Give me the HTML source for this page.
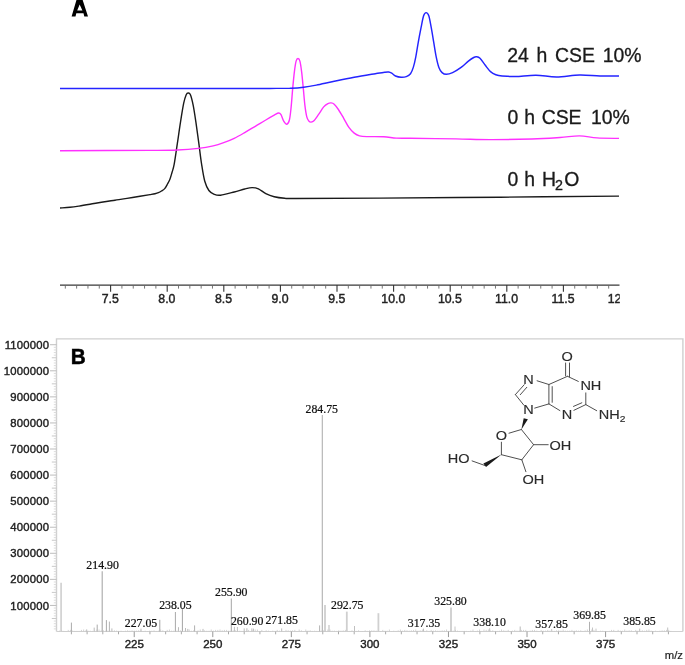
<!DOCTYPE html>
<html><head><meta charset="utf-8"><title>Figure</title>
<style>
html,body{margin:0;padding:0;background:#fff;}
body{width:685px;height:665px;overflow:hidden;font-family:"Liberation Sans",sans-serif;}
svg{display:block;filter:blur(0.42px);}
</style></head><body>
<svg width="685" height="665" viewBox="0 0 685 665">
<defs><clipPath id="clipA"><rect x="0" y="290" width="619.8" height="20"/></clipPath></defs>
<rect width="685" height="665" fill="#fff"/>
<path d="M60.00,208.00 C61.67,207.88 66.83,207.62 70.00,207.30 C73.17,206.98 75.67,206.60 79.00,206.10 C82.33,205.60 86.00,204.98 90.00,204.30 C94.00,203.62 98.83,202.68 103.00,202.00 C107.17,201.32 111.00,200.80 115.00,200.20 C119.00,199.60 122.83,199.07 127.00,198.40 C131.17,197.73 136.17,196.83 140.00,196.20 C143.83,195.57 147.50,195.02 150.00,194.60 C152.50,194.18 153.60,194.02 155.00,193.70 C156.40,193.38 157.32,193.15 158.40,192.70 C159.48,192.25 160.45,191.68 161.50,191.00 C162.55,190.32 163.70,189.77 164.70,188.60 C165.70,187.43 166.62,185.60 167.50,184.00 C168.38,182.40 169.25,180.92 170.00,179.00 C170.75,177.08 171.30,174.97 172.00,172.50 C172.70,170.03 173.30,169.08 174.20,164.20 C175.10,159.32 176.35,150.22 177.40,143.20 C178.45,136.18 179.45,128.77 180.50,122.10 C181.55,115.43 182.75,107.77 183.70,103.20 C184.65,98.63 185.47,96.40 186.20,94.70 C186.93,93.00 187.40,93.00 188.10,93.00 C188.80,93.00 189.55,92.65 190.40,94.70 C191.25,96.75 192.28,100.73 193.20,105.30 C194.12,109.87 194.97,115.78 195.90,122.10 C196.83,128.42 197.85,136.18 198.80,143.20 C199.75,150.22 200.62,157.90 201.60,164.20 C202.58,170.50 203.48,176.62 204.70,181.00 C205.92,185.38 207.32,188.28 208.90,190.50 C210.48,192.72 212.27,193.52 214.20,194.30 C216.13,195.08 217.17,195.58 220.50,195.20 C223.83,194.82 230.17,193.03 234.20,192.00 C238.23,190.97 241.72,189.73 244.70,189.00 C247.68,188.27 249.82,187.63 252.10,187.60 C254.38,187.57 256.12,187.78 258.40,188.80 C260.68,189.82 263.17,192.37 265.80,193.70 C268.43,195.03 271.05,196.03 274.20,196.80 C277.35,197.57 281.07,198.02 284.70,198.30 C288.33,198.58 280.12,198.53 296.00,198.50 C311.88,198.47 346.00,198.32 380.00,198.10 C414.00,197.88 460.17,197.53 500.00,197.20 C539.83,196.87 599.17,196.28 619.00,196.10" fill="none" stroke="#1a1a1a" stroke-width="1.4" stroke-linejoin="round"/>
<path d="M60.00,150.70 C75.00,150.65 130.43,150.52 150.00,150.40 C169.57,150.28 169.33,150.33 177.40,150.00 C185.47,149.67 192.43,149.08 198.40,148.40 C204.37,147.72 208.98,146.85 213.20,145.90 C217.42,144.95 220.20,143.97 223.70,142.70 C227.20,141.43 230.70,139.98 234.20,138.30 C237.70,136.62 241.18,134.60 244.70,132.60 C248.22,130.60 251.78,128.40 255.30,126.30 C258.82,124.20 262.65,121.85 265.80,120.00 C268.95,118.15 272.07,116.37 274.20,115.20 C276.33,114.03 277.47,113.08 278.60,113.00 C279.73,112.92 280.15,113.35 281.00,114.70 C281.85,116.05 282.73,119.52 283.70,121.10 C284.67,122.68 285.85,124.38 286.80,124.20 C287.75,124.02 288.68,122.80 289.40,120.00 C290.12,117.20 290.55,112.67 291.10,107.40 C291.65,102.13 292.15,94.37 292.70,88.40 C293.25,82.43 293.83,76.15 294.40,71.60 C294.97,67.05 295.50,63.28 296.10,61.10 C296.70,58.92 297.37,58.50 298.00,58.50 C298.63,58.50 299.30,58.92 299.90,61.10 C300.50,63.28 301.03,67.05 301.60,71.60 C302.17,76.15 302.75,82.78 303.30,88.40 C303.85,94.02 304.32,100.57 304.90,105.30 C305.48,110.03 306.13,114.17 306.80,116.80 C307.47,119.43 308.18,120.22 308.90,121.10 C309.62,121.98 310.22,122.22 311.10,122.10 C311.98,121.98 312.98,121.63 314.20,120.40 C315.42,119.17 316.82,116.95 318.40,114.70 C319.98,112.45 322.12,108.75 323.70,106.90 C325.28,105.05 326.67,104.27 327.90,103.60 C329.13,102.93 330.05,102.80 331.10,102.90 C332.15,103.00 332.98,103.10 334.20,104.20 C335.42,105.30 336.82,107.15 338.40,109.50 C339.98,111.85 341.95,115.32 343.70,118.30 C345.45,121.28 347.15,124.93 348.90,127.40 C350.65,129.87 352.43,131.70 354.20,133.10 C355.97,134.50 357.40,135.22 359.50,135.80 C361.60,136.38 362.77,136.43 366.80,136.60 C370.83,136.77 378.78,136.55 383.70,136.80 C388.62,137.05 391.92,137.85 396.30,138.10 C400.68,138.35 400.05,138.17 410.00,138.30 C419.95,138.43 442.67,138.68 456.00,138.90 C469.33,139.12 477.33,139.58 490.00,139.60 C502.67,139.62 520.33,139.35 532.00,139.00 C543.67,138.65 552.08,138.02 560.00,137.50 C567.92,136.98 573.33,135.83 579.50,135.90 C585.67,135.97 590.42,137.48 597.00,137.90 C603.58,138.32 615.33,138.32 619.00,138.40" fill="none" stroke="#ff30ff" stroke-width="1.4" stroke-linejoin="round"/>
<path d="M60.00,88.40 C95.00,88.40 231.50,88.43 270.00,88.40 C308.50,88.37 285.38,88.40 291.00,88.20 C296.62,88.00 299.48,87.72 303.70,87.20 C307.92,86.68 311.38,86.05 316.30,85.10 C321.22,84.15 326.88,82.80 333.20,81.50 C339.52,80.20 347.18,78.60 354.20,77.30 C361.22,76.00 370.22,74.55 375.30,73.70 C380.38,72.85 382.47,72.48 384.70,72.20 C386.93,71.92 387.53,71.83 388.70,72.00 C389.87,72.17 390.57,72.53 391.70,73.20 C392.83,73.87 393.93,75.32 395.50,76.00 C397.07,76.68 399.30,77.20 401.10,77.30 C402.90,77.40 404.73,77.20 406.30,76.60 C407.87,76.00 409.33,75.23 410.50,73.70 C411.67,72.17 412.42,70.22 413.30,67.40 C414.18,64.58 414.97,61.02 415.80,56.80 C416.63,52.58 417.42,47.00 418.30,42.10 C419.18,37.20 420.22,31.78 421.10,27.40 C421.98,23.02 422.77,18.27 423.60,15.80 C424.43,13.33 425.23,12.60 426.10,12.60 C426.97,12.60 427.95,13.33 428.80,15.80 C429.65,18.27 430.38,23.02 431.20,27.40 C432.02,31.78 432.87,37.20 433.70,42.10 C434.53,47.00 435.33,52.58 436.20,56.80 C437.07,61.02 437.92,64.77 438.90,67.40 C439.88,70.03 440.87,71.45 442.10,72.60 C443.33,73.75 444.55,74.30 446.30,74.30 C448.05,74.30 450.13,73.75 452.60,72.60 C455.07,71.45 458.47,69.32 461.10,67.40 C463.73,65.48 466.30,62.75 468.40,61.10 C470.50,59.45 472.37,58.22 473.70,57.50 C475.03,56.78 475.35,56.67 476.40,56.80 C477.45,56.93 478.52,56.88 480.00,58.30 C481.48,59.72 483.55,63.08 485.30,65.30 C487.05,67.52 488.75,70.03 490.50,71.60 C492.25,73.17 493.87,73.97 495.80,74.70 C497.73,75.43 498.80,75.70 502.10,76.00 C505.40,76.30 509.95,76.63 515.60,76.50 C521.25,76.37 529.18,75.12 536.00,75.20 C542.82,75.28 549.25,77.03 556.50,77.00 C563.75,76.97 572.25,75.17 579.50,75.00 C586.75,74.83 593.42,75.83 600.00,76.00 C606.58,76.17 615.83,76.00 619.00,76.00" fill="none" stroke="#2424ff" stroke-width="1.45" stroke-linejoin="round"/>
<line x1="60" y1="285.1" x2="619.5" y2="285.1" stroke="#383838" stroke-width="1.1"/>
<line x1="65.32" y1="285" x2="65.32" y2="288.6" stroke="#666" stroke-width="0.9"/>
<line x1="76.64" y1="285" x2="76.64" y2="288.6" stroke="#666" stroke-width="0.9"/>
<line x1="87.96" y1="285" x2="87.96" y2="288.6" stroke="#666" stroke-width="0.9"/>
<line x1="99.28" y1="285" x2="99.28" y2="288.6" stroke="#666" stroke-width="0.9"/>
<line x1="110.60" y1="285" x2="110.60" y2="291.7" stroke="#333" stroke-width="1.1"/>
<line x1="121.92" y1="285" x2="121.92" y2="288.6" stroke="#666" stroke-width="0.9"/>
<line x1="133.24" y1="285" x2="133.24" y2="288.6" stroke="#666" stroke-width="0.9"/>
<line x1="144.56" y1="285" x2="144.56" y2="288.6" stroke="#666" stroke-width="0.9"/>
<line x1="155.88" y1="285" x2="155.88" y2="288.6" stroke="#666" stroke-width="0.9"/>
<line x1="167.20" y1="285" x2="167.20" y2="291.7" stroke="#333" stroke-width="1.1"/>
<line x1="178.52" y1="285" x2="178.52" y2="288.6" stroke="#666" stroke-width="0.9"/>
<line x1="189.84" y1="285" x2="189.84" y2="288.6" stroke="#666" stroke-width="0.9"/>
<line x1="201.16" y1="285" x2="201.16" y2="288.6" stroke="#666" stroke-width="0.9"/>
<line x1="212.48" y1="285" x2="212.48" y2="288.6" stroke="#666" stroke-width="0.9"/>
<line x1="223.80" y1="285" x2="223.80" y2="291.7" stroke="#333" stroke-width="1.1"/>
<line x1="235.12" y1="285" x2="235.12" y2="288.6" stroke="#666" stroke-width="0.9"/>
<line x1="246.44" y1="285" x2="246.44" y2="288.6" stroke="#666" stroke-width="0.9"/>
<line x1="257.76" y1="285" x2="257.76" y2="288.6" stroke="#666" stroke-width="0.9"/>
<line x1="269.08" y1="285" x2="269.08" y2="288.6" stroke="#666" stroke-width="0.9"/>
<line x1="280.40" y1="285" x2="280.40" y2="291.7" stroke="#333" stroke-width="1.1"/>
<line x1="291.72" y1="285" x2="291.72" y2="288.6" stroke="#666" stroke-width="0.9"/>
<line x1="303.04" y1="285" x2="303.04" y2="288.6" stroke="#666" stroke-width="0.9"/>
<line x1="314.36" y1="285" x2="314.36" y2="288.6" stroke="#666" stroke-width="0.9"/>
<line x1="325.68" y1="285" x2="325.68" y2="288.6" stroke="#666" stroke-width="0.9"/>
<line x1="337.00" y1="285" x2="337.00" y2="291.7" stroke="#333" stroke-width="1.1"/>
<line x1="348.32" y1="285" x2="348.32" y2="288.6" stroke="#666" stroke-width="0.9"/>
<line x1="359.64" y1="285" x2="359.64" y2="288.6" stroke="#666" stroke-width="0.9"/>
<line x1="370.96" y1="285" x2="370.96" y2="288.6" stroke="#666" stroke-width="0.9"/>
<line x1="382.28" y1="285" x2="382.28" y2="288.6" stroke="#666" stroke-width="0.9"/>
<line x1="393.60" y1="285" x2="393.60" y2="291.7" stroke="#333" stroke-width="1.1"/>
<line x1="404.92" y1="285" x2="404.92" y2="288.6" stroke="#666" stroke-width="0.9"/>
<line x1="416.24" y1="285" x2="416.24" y2="288.6" stroke="#666" stroke-width="0.9"/>
<line x1="427.56" y1="285" x2="427.56" y2="288.6" stroke="#666" stroke-width="0.9"/>
<line x1="438.88" y1="285" x2="438.88" y2="288.6" stroke="#666" stroke-width="0.9"/>
<line x1="450.20" y1="285" x2="450.20" y2="291.7" stroke="#333" stroke-width="1.1"/>
<line x1="461.52" y1="285" x2="461.52" y2="288.6" stroke="#666" stroke-width="0.9"/>
<line x1="472.84" y1="285" x2="472.84" y2="288.6" stroke="#666" stroke-width="0.9"/>
<line x1="484.16" y1="285" x2="484.16" y2="288.6" stroke="#666" stroke-width="0.9"/>
<line x1="495.48" y1="285" x2="495.48" y2="288.6" stroke="#666" stroke-width="0.9"/>
<line x1="506.80" y1="285" x2="506.80" y2="291.7" stroke="#333" stroke-width="1.1"/>
<line x1="518.12" y1="285" x2="518.12" y2="288.6" stroke="#666" stroke-width="0.9"/>
<line x1="529.44" y1="285" x2="529.44" y2="288.6" stroke="#666" stroke-width="0.9"/>
<line x1="540.76" y1="285" x2="540.76" y2="288.6" stroke="#666" stroke-width="0.9"/>
<line x1="552.08" y1="285" x2="552.08" y2="288.6" stroke="#666" stroke-width="0.9"/>
<line x1="563.40" y1="285" x2="563.40" y2="291.7" stroke="#333" stroke-width="1.1"/>
<line x1="574.72" y1="285" x2="574.72" y2="288.6" stroke="#666" stroke-width="0.9"/>
<line x1="586.04" y1="285" x2="586.04" y2="288.6" stroke="#666" stroke-width="0.9"/>
<line x1="597.36" y1="285" x2="597.36" y2="288.6" stroke="#666" stroke-width="0.9"/>
<line x1="608.68" y1="285" x2="608.68" y2="288.6" stroke="#666" stroke-width="0.9"/>
<g clip-path="url(#clipA)" font-family="Liberation Sans, sans-serif" font-size="12.3" fill="#222" stroke="#222" stroke-width="0.42" text-anchor="middle">
<text x="110.30" y="302.9">7.5</text>
<text x="166.90" y="302.9">8.0</text>
<text x="223.50" y="302.9">8.5</text>
<text x="280.10" y="302.9">9.0</text>
<text x="336.70" y="302.9">9.5</text>
<text x="393.30" y="302.9">10.0</text>
<text x="449.90" y="302.9">10.5</text>
<text x="506.50" y="302.9">11.0</text>
<text x="563.10" y="302.9">11.5</text>
<text x="619.70" y="302.9">12.0</text>
</g>
<g font-family="Liberation Sans, sans-serif" font-size="19.4" fill="#1a1a1a" stroke="#1a1a1a" stroke-width="0.3" word-spacing="2.4">
<text x="507.2" y="61.5">24 h CSE 10%</text>
<text y="123.5"><tspan x="507.4">0</tspan><tspan x="524.2">h</tspan><tspan x="541.7">CSE</tspan><tspan x="590.9">10%</tspan></text>
<text y="185.5"><tspan x="507.4">0</tspan><tspan x="524.2">h</tspan><tspan x="542.0">H</tspan><tspan x="554.9" font-size="14.3" dy="4">2</tspan><tspan x="564.3" dy="-4">O</tspan></text>
</g>
<path d="M71.6,16.6 L76.6,-0.5 L82.5,-0.5 L88.0,16.6 L84.3,16.6 L83.5,13.2 L76.3,13.2 L75.5,16.6 Z M79.65,4.6 L82.4,10.5 L77.2,10.5 Z" fill="#000" fill-rule="evenodd"/>
<path d="M56.5,631.5 L56.5,338.9 L682.9,338.9 L682.9,631.5" fill="none" stroke="#cfcfcf" stroke-width="1.4"/>
<line x1="56.5" y1="631.5" x2="682.9" y2="631.5" stroke="#d0d0d0" stroke-width="1"/>
<line x1="53.8" y1="628.89" x2="56.5" y2="628.89" stroke="#d8d8d8" stroke-width="0.9"/>
<line x1="53.8" y1="626.29" x2="56.5" y2="626.29" stroke="#d8d8d8" stroke-width="0.9"/>
<line x1="53.8" y1="623.68" x2="56.5" y2="623.68" stroke="#d8d8d8" stroke-width="0.9"/>
<line x1="53.8" y1="621.07" x2="56.5" y2="621.07" stroke="#d8d8d8" stroke-width="0.9"/>
<line x1="51.8" y1="618.47" x2="56.5" y2="618.47" stroke="#c8c8c8" stroke-width="1"/>
<line x1="53.8" y1="615.86" x2="56.5" y2="615.86" stroke="#d8d8d8" stroke-width="0.9"/>
<line x1="53.8" y1="613.25" x2="56.5" y2="613.25" stroke="#d8d8d8" stroke-width="0.9"/>
<line x1="53.8" y1="610.64" x2="56.5" y2="610.64" stroke="#d8d8d8" stroke-width="0.9"/>
<line x1="53.8" y1="608.04" x2="56.5" y2="608.04" stroke="#d8d8d8" stroke-width="0.9"/>
<line x1="50" y1="605.43" x2="56.5" y2="605.43" stroke="#bdbdbd" stroke-width="1"/>
<line x1="53.8" y1="602.82" x2="56.5" y2="602.82" stroke="#d8d8d8" stroke-width="0.9"/>
<line x1="53.8" y1="600.22" x2="56.5" y2="600.22" stroke="#d8d8d8" stroke-width="0.9"/>
<line x1="53.8" y1="597.61" x2="56.5" y2="597.61" stroke="#d8d8d8" stroke-width="0.9"/>
<line x1="53.8" y1="595.00" x2="56.5" y2="595.00" stroke="#d8d8d8" stroke-width="0.9"/>
<line x1="51.8" y1="592.39" x2="56.5" y2="592.39" stroke="#c8c8c8" stroke-width="1"/>
<line x1="53.8" y1="589.79" x2="56.5" y2="589.79" stroke="#d8d8d8" stroke-width="0.9"/>
<line x1="53.8" y1="587.18" x2="56.5" y2="587.18" stroke="#d8d8d8" stroke-width="0.9"/>
<line x1="53.8" y1="584.57" x2="56.5" y2="584.57" stroke="#d8d8d8" stroke-width="0.9"/>
<line x1="53.8" y1="581.97" x2="56.5" y2="581.97" stroke="#d8d8d8" stroke-width="0.9"/>
<line x1="50" y1="579.36" x2="56.5" y2="579.36" stroke="#bdbdbd" stroke-width="1"/>
<line x1="53.8" y1="576.75" x2="56.5" y2="576.75" stroke="#d8d8d8" stroke-width="0.9"/>
<line x1="53.8" y1="574.15" x2="56.5" y2="574.15" stroke="#d8d8d8" stroke-width="0.9"/>
<line x1="53.8" y1="571.54" x2="56.5" y2="571.54" stroke="#d8d8d8" stroke-width="0.9"/>
<line x1="53.8" y1="568.93" x2="56.5" y2="568.93" stroke="#d8d8d8" stroke-width="0.9"/>
<line x1="51.8" y1="566.33" x2="56.5" y2="566.33" stroke="#c8c8c8" stroke-width="1"/>
<line x1="53.8" y1="563.72" x2="56.5" y2="563.72" stroke="#d8d8d8" stroke-width="0.9"/>
<line x1="53.8" y1="561.11" x2="56.5" y2="561.11" stroke="#d8d8d8" stroke-width="0.9"/>
<line x1="53.8" y1="558.50" x2="56.5" y2="558.50" stroke="#d8d8d8" stroke-width="0.9"/>
<line x1="53.8" y1="555.90" x2="56.5" y2="555.90" stroke="#d8d8d8" stroke-width="0.9"/>
<line x1="50" y1="553.29" x2="56.5" y2="553.29" stroke="#bdbdbd" stroke-width="1"/>
<line x1="53.8" y1="550.68" x2="56.5" y2="550.68" stroke="#d8d8d8" stroke-width="0.9"/>
<line x1="53.8" y1="548.08" x2="56.5" y2="548.08" stroke="#d8d8d8" stroke-width="0.9"/>
<line x1="53.8" y1="545.47" x2="56.5" y2="545.47" stroke="#d8d8d8" stroke-width="0.9"/>
<line x1="53.8" y1="542.86" x2="56.5" y2="542.86" stroke="#d8d8d8" stroke-width="0.9"/>
<line x1="51.8" y1="540.25" x2="56.5" y2="540.25" stroke="#c8c8c8" stroke-width="1"/>
<line x1="53.8" y1="537.65" x2="56.5" y2="537.65" stroke="#d8d8d8" stroke-width="0.9"/>
<line x1="53.8" y1="535.04" x2="56.5" y2="535.04" stroke="#d8d8d8" stroke-width="0.9"/>
<line x1="53.8" y1="532.43" x2="56.5" y2="532.43" stroke="#d8d8d8" stroke-width="0.9"/>
<line x1="53.8" y1="529.83" x2="56.5" y2="529.83" stroke="#d8d8d8" stroke-width="0.9"/>
<line x1="50" y1="527.22" x2="56.5" y2="527.22" stroke="#bdbdbd" stroke-width="1"/>
<line x1="53.8" y1="524.61" x2="56.5" y2="524.61" stroke="#d8d8d8" stroke-width="0.9"/>
<line x1="53.8" y1="522.01" x2="56.5" y2="522.01" stroke="#d8d8d8" stroke-width="0.9"/>
<line x1="53.8" y1="519.40" x2="56.5" y2="519.40" stroke="#d8d8d8" stroke-width="0.9"/>
<line x1="53.8" y1="516.79" x2="56.5" y2="516.79" stroke="#d8d8d8" stroke-width="0.9"/>
<line x1="51.8" y1="514.18" x2="56.5" y2="514.18" stroke="#c8c8c8" stroke-width="1"/>
<line x1="53.8" y1="511.58" x2="56.5" y2="511.58" stroke="#d8d8d8" stroke-width="0.9"/>
<line x1="53.8" y1="508.97" x2="56.5" y2="508.97" stroke="#d8d8d8" stroke-width="0.9"/>
<line x1="53.8" y1="506.36" x2="56.5" y2="506.36" stroke="#d8d8d8" stroke-width="0.9"/>
<line x1="53.8" y1="503.76" x2="56.5" y2="503.76" stroke="#d8d8d8" stroke-width="0.9"/>
<line x1="50" y1="501.15" x2="56.5" y2="501.15" stroke="#bdbdbd" stroke-width="1"/>
<line x1="53.8" y1="498.54" x2="56.5" y2="498.54" stroke="#d8d8d8" stroke-width="0.9"/>
<line x1="53.8" y1="495.94" x2="56.5" y2="495.94" stroke="#d8d8d8" stroke-width="0.9"/>
<line x1="53.8" y1="493.33" x2="56.5" y2="493.33" stroke="#d8d8d8" stroke-width="0.9"/>
<line x1="53.8" y1="490.72" x2="56.5" y2="490.72" stroke="#d8d8d8" stroke-width="0.9"/>
<line x1="51.8" y1="488.12" x2="56.5" y2="488.12" stroke="#c8c8c8" stroke-width="1"/>
<line x1="53.8" y1="485.51" x2="56.5" y2="485.51" stroke="#d8d8d8" stroke-width="0.9"/>
<line x1="53.8" y1="482.90" x2="56.5" y2="482.90" stroke="#d8d8d8" stroke-width="0.9"/>
<line x1="53.8" y1="480.29" x2="56.5" y2="480.29" stroke="#d8d8d8" stroke-width="0.9"/>
<line x1="53.8" y1="477.69" x2="56.5" y2="477.69" stroke="#d8d8d8" stroke-width="0.9"/>
<line x1="50" y1="475.08" x2="56.5" y2="475.08" stroke="#bdbdbd" stroke-width="1"/>
<line x1="53.8" y1="472.47" x2="56.5" y2="472.47" stroke="#d8d8d8" stroke-width="0.9"/>
<line x1="53.8" y1="469.87" x2="56.5" y2="469.87" stroke="#d8d8d8" stroke-width="0.9"/>
<line x1="53.8" y1="467.26" x2="56.5" y2="467.26" stroke="#d8d8d8" stroke-width="0.9"/>
<line x1="53.8" y1="464.65" x2="56.5" y2="464.65" stroke="#d8d8d8" stroke-width="0.9"/>
<line x1="51.8" y1="462.04" x2="56.5" y2="462.04" stroke="#c8c8c8" stroke-width="1"/>
<line x1="53.8" y1="459.44" x2="56.5" y2="459.44" stroke="#d8d8d8" stroke-width="0.9"/>
<line x1="53.8" y1="456.83" x2="56.5" y2="456.83" stroke="#d8d8d8" stroke-width="0.9"/>
<line x1="53.8" y1="454.22" x2="56.5" y2="454.22" stroke="#d8d8d8" stroke-width="0.9"/>
<line x1="53.8" y1="451.62" x2="56.5" y2="451.62" stroke="#d8d8d8" stroke-width="0.9"/>
<line x1="50" y1="449.01" x2="56.5" y2="449.01" stroke="#bdbdbd" stroke-width="1"/>
<line x1="53.8" y1="446.40" x2="56.5" y2="446.40" stroke="#d8d8d8" stroke-width="0.9"/>
<line x1="53.8" y1="443.80" x2="56.5" y2="443.80" stroke="#d8d8d8" stroke-width="0.9"/>
<line x1="53.8" y1="441.19" x2="56.5" y2="441.19" stroke="#d8d8d8" stroke-width="0.9"/>
<line x1="53.8" y1="438.58" x2="56.5" y2="438.58" stroke="#d8d8d8" stroke-width="0.9"/>
<line x1="51.8" y1="435.98" x2="56.5" y2="435.98" stroke="#c8c8c8" stroke-width="1"/>
<line x1="53.8" y1="433.37" x2="56.5" y2="433.37" stroke="#d8d8d8" stroke-width="0.9"/>
<line x1="53.8" y1="430.76" x2="56.5" y2="430.76" stroke="#d8d8d8" stroke-width="0.9"/>
<line x1="53.8" y1="428.15" x2="56.5" y2="428.15" stroke="#d8d8d8" stroke-width="0.9"/>
<line x1="53.8" y1="425.55" x2="56.5" y2="425.55" stroke="#d8d8d8" stroke-width="0.9"/>
<line x1="50" y1="422.94" x2="56.5" y2="422.94" stroke="#bdbdbd" stroke-width="1"/>
<line x1="53.8" y1="420.33" x2="56.5" y2="420.33" stroke="#d8d8d8" stroke-width="0.9"/>
<line x1="53.8" y1="417.73" x2="56.5" y2="417.73" stroke="#d8d8d8" stroke-width="0.9"/>
<line x1="53.8" y1="415.12" x2="56.5" y2="415.12" stroke="#d8d8d8" stroke-width="0.9"/>
<line x1="53.8" y1="412.51" x2="56.5" y2="412.51" stroke="#d8d8d8" stroke-width="0.9"/>
<line x1="51.8" y1="409.90" x2="56.5" y2="409.90" stroke="#c8c8c8" stroke-width="1"/>
<line x1="53.8" y1="407.30" x2="56.5" y2="407.30" stroke="#d8d8d8" stroke-width="0.9"/>
<line x1="53.8" y1="404.69" x2="56.5" y2="404.69" stroke="#d8d8d8" stroke-width="0.9"/>
<line x1="53.8" y1="402.08" x2="56.5" y2="402.08" stroke="#d8d8d8" stroke-width="0.9"/>
<line x1="53.8" y1="399.48" x2="56.5" y2="399.48" stroke="#d8d8d8" stroke-width="0.9"/>
<line x1="50" y1="396.87" x2="56.5" y2="396.87" stroke="#bdbdbd" stroke-width="1"/>
<line x1="53.8" y1="394.26" x2="56.5" y2="394.26" stroke="#d8d8d8" stroke-width="0.9"/>
<line x1="53.8" y1="391.66" x2="56.5" y2="391.66" stroke="#d8d8d8" stroke-width="0.9"/>
<line x1="53.8" y1="389.05" x2="56.5" y2="389.05" stroke="#d8d8d8" stroke-width="0.9"/>
<line x1="53.8" y1="386.44" x2="56.5" y2="386.44" stroke="#d8d8d8" stroke-width="0.9"/>
<line x1="51.8" y1="383.84" x2="56.5" y2="383.84" stroke="#c8c8c8" stroke-width="1"/>
<line x1="53.8" y1="381.23" x2="56.5" y2="381.23" stroke="#d8d8d8" stroke-width="0.9"/>
<line x1="53.8" y1="378.62" x2="56.5" y2="378.62" stroke="#d8d8d8" stroke-width="0.9"/>
<line x1="53.8" y1="376.01" x2="56.5" y2="376.01" stroke="#d8d8d8" stroke-width="0.9"/>
<line x1="53.8" y1="373.41" x2="56.5" y2="373.41" stroke="#d8d8d8" stroke-width="0.9"/>
<line x1="50" y1="370.80" x2="56.5" y2="370.80" stroke="#bdbdbd" stroke-width="1"/>
<line x1="53.8" y1="368.19" x2="56.5" y2="368.19" stroke="#d8d8d8" stroke-width="0.9"/>
<line x1="53.8" y1="365.59" x2="56.5" y2="365.59" stroke="#d8d8d8" stroke-width="0.9"/>
<line x1="53.8" y1="362.98" x2="56.5" y2="362.98" stroke="#d8d8d8" stroke-width="0.9"/>
<line x1="53.8" y1="360.37" x2="56.5" y2="360.37" stroke="#d8d8d8" stroke-width="0.9"/>
<line x1="51.8" y1="357.76" x2="56.5" y2="357.76" stroke="#c8c8c8" stroke-width="1"/>
<line x1="53.8" y1="355.16" x2="56.5" y2="355.16" stroke="#d8d8d8" stroke-width="0.9"/>
<line x1="53.8" y1="352.55" x2="56.5" y2="352.55" stroke="#d8d8d8" stroke-width="0.9"/>
<line x1="53.8" y1="349.94" x2="56.5" y2="349.94" stroke="#d8d8d8" stroke-width="0.9"/>
<line x1="53.8" y1="347.34" x2="56.5" y2="347.34" stroke="#d8d8d8" stroke-width="0.9"/>
<line x1="50" y1="344.73" x2="56.5" y2="344.73" stroke="#bdbdbd" stroke-width="1"/>
<g font-family="Liberation Sans, sans-serif" font-size="11.3" letter-spacing="0.2" fill="#222" stroke="#222" stroke-width="0.4" text-anchor="end">
<text x="49.2" y="609.53">100000</text>
<text x="49.2" y="583.46">200000</text>
<text x="49.2" y="557.39">300000</text>
<text x="49.2" y="531.32">400000</text>
<text x="49.2" y="505.25">500000</text>
<text x="49.2" y="479.18">600000</text>
<text x="49.2" y="453.11">700000</text>
<text x="49.2" y="427.04">800000</text>
<text x="49.2" y="400.97">900000</text>
<text x="49.2" y="374.90">1000000</text>
<text x="49.2" y="348.83">1100000</text>
</g>
<line x1="71.38" y1="631.5" x2="71.38" y2="634.3" stroke="#a8a8a8" stroke-width="1"/>
<line x1="87.10" y1="631.5" x2="87.10" y2="634.3" stroke="#a8a8a8" stroke-width="1"/>
<line x1="102.81" y1="631.5" x2="102.81" y2="634.3" stroke="#a8a8a8" stroke-width="1"/>
<line x1="118.52" y1="631.5" x2="118.52" y2="634.3" stroke="#a8a8a8" stroke-width="1"/>
<line x1="134.23" y1="631.5" x2="134.23" y2="637.1" stroke="#999" stroke-width="1"/>
<line x1="149.94" y1="631.5" x2="149.94" y2="634.3" stroke="#a8a8a8" stroke-width="1"/>
<line x1="165.65" y1="631.5" x2="165.65" y2="634.3" stroke="#a8a8a8" stroke-width="1"/>
<line x1="181.36" y1="631.5" x2="181.36" y2="634.3" stroke="#a8a8a8" stroke-width="1"/>
<line x1="197.08" y1="631.5" x2="197.08" y2="634.3" stroke="#a8a8a8" stroke-width="1"/>
<line x1="212.79" y1="631.5" x2="212.79" y2="637.1" stroke="#999" stroke-width="1"/>
<line x1="228.50" y1="631.5" x2="228.50" y2="634.3" stroke="#a8a8a8" stroke-width="1"/>
<line x1="244.21" y1="631.5" x2="244.21" y2="634.3" stroke="#a8a8a8" stroke-width="1"/>
<line x1="259.92" y1="631.5" x2="259.92" y2="634.3" stroke="#a8a8a8" stroke-width="1"/>
<line x1="275.63" y1="631.5" x2="275.63" y2="634.3" stroke="#a8a8a8" stroke-width="1"/>
<line x1="291.35" y1="631.5" x2="291.35" y2="637.1" stroke="#999" stroke-width="1"/>
<line x1="307.06" y1="631.5" x2="307.06" y2="634.3" stroke="#a8a8a8" stroke-width="1"/>
<line x1="322.77" y1="631.5" x2="322.77" y2="634.3" stroke="#a8a8a8" stroke-width="1"/>
<line x1="338.48" y1="631.5" x2="338.48" y2="634.3" stroke="#a8a8a8" stroke-width="1"/>
<line x1="354.19" y1="631.5" x2="354.19" y2="634.3" stroke="#a8a8a8" stroke-width="1"/>
<line x1="369.90" y1="631.5" x2="369.90" y2="637.1" stroke="#999" stroke-width="1"/>
<line x1="385.61" y1="631.5" x2="385.61" y2="634.3" stroke="#a8a8a8" stroke-width="1"/>
<line x1="401.33" y1="631.5" x2="401.33" y2="634.3" stroke="#a8a8a8" stroke-width="1"/>
<line x1="417.04" y1="631.5" x2="417.04" y2="634.3" stroke="#a8a8a8" stroke-width="1"/>
<line x1="432.75" y1="631.5" x2="432.75" y2="634.3" stroke="#a8a8a8" stroke-width="1"/>
<line x1="448.46" y1="631.5" x2="448.46" y2="637.1" stroke="#999" stroke-width="1"/>
<line x1="464.17" y1="631.5" x2="464.17" y2="634.3" stroke="#a8a8a8" stroke-width="1"/>
<line x1="479.88" y1="631.5" x2="479.88" y2="634.3" stroke="#a8a8a8" stroke-width="1"/>
<line x1="495.59" y1="631.5" x2="495.59" y2="634.3" stroke="#a8a8a8" stroke-width="1"/>
<line x1="511.31" y1="631.5" x2="511.31" y2="634.3" stroke="#a8a8a8" stroke-width="1"/>
<line x1="527.02" y1="631.5" x2="527.02" y2="637.1" stroke="#999" stroke-width="1"/>
<line x1="542.73" y1="631.5" x2="542.73" y2="634.3" stroke="#a8a8a8" stroke-width="1"/>
<line x1="558.44" y1="631.5" x2="558.44" y2="634.3" stroke="#a8a8a8" stroke-width="1"/>
<line x1="574.15" y1="631.5" x2="574.15" y2="634.3" stroke="#a8a8a8" stroke-width="1"/>
<line x1="589.86" y1="631.5" x2="589.86" y2="634.3" stroke="#a8a8a8" stroke-width="1"/>
<line x1="605.58" y1="631.5" x2="605.58" y2="637.1" stroke="#999" stroke-width="1"/>
<line x1="621.29" y1="631.5" x2="621.29" y2="634.3" stroke="#a8a8a8" stroke-width="1"/>
<line x1="637.00" y1="631.5" x2="637.00" y2="634.3" stroke="#a8a8a8" stroke-width="1"/>
<line x1="652.71" y1="631.5" x2="652.71" y2="634.3" stroke="#a8a8a8" stroke-width="1"/>
<line x1="668.42" y1="631.5" x2="668.42" y2="634.3" stroke="#a8a8a8" stroke-width="1"/>
<g font-family="Liberation Sans, sans-serif" font-size="11.5" fill="#222" stroke="#222" stroke-width="0.4" text-anchor="middle">
<text x="134.23" y="647.7">225</text>
<text x="212.79" y="647.7">250</text>
<text x="291.35" y="647.7">275</text>
<text x="369.90" y="647.7">300</text>
<text x="448.46" y="647.7">325</text>
<text x="527.02" y="647.7">350</text>
<text x="605.58" y="647.7">375</text>
</g>
<text x="683" y="658.5" font-family="Liberation Sans, sans-serif" font-size="11.3" fill="#222" stroke="#222" stroke-width="0.2" text-anchor="end">m/z</text>
<text transform="translate(70.7,363.8) scale(0.91,1)" font-family="Liberation Sans, sans-serif" font-weight="bold" font-size="22.8" fill="#000" stroke="#000" stroke-width="0.5">B</text>
<line x1="61.10" y1="582.80" x2="61.10" y2="631.5" stroke="#d4d4d4" stroke-width="1.80"/>
<line x1="71.40" y1="622.60" x2="71.40" y2="631.5" stroke="#aaa" stroke-width="1.00"/>
<line x1="86.70" y1="629.40" x2="86.70" y2="631.5" stroke="#bbb" stroke-width="1.00"/>
<line x1="94.20" y1="627.60" x2="94.20" y2="631.5" stroke="#bbb" stroke-width="1.00"/>
<line x1="97.20" y1="624.60" x2="97.20" y2="631.5" stroke="#aaa" stroke-width="1.00"/>
<line x1="102.20" y1="571.20" x2="102.20" y2="631.5" stroke="#a8a8a8" stroke-width="1.10"/>
<line x1="106.40" y1="620.10" x2="106.40" y2="631.5" stroke="#aaa" stroke-width="1.00"/>
<line x1="109.40" y1="621.60" x2="109.40" y2="631.5" stroke="#b4b4b4" stroke-width="1.00"/>
<line x1="111.90" y1="628.40" x2="111.90" y2="631.5" stroke="#bbb" stroke-width="1.00"/>
<line x1="141.00" y1="628.60" x2="141.00" y2="631.5" stroke="#bbb" stroke-width="1.00"/>
<line x1="159.80" y1="619.80" x2="159.80" y2="631.5" stroke="#a4a4a4" stroke-width="1.00"/>
<line x1="175.40" y1="612.00" x2="175.40" y2="631.5" stroke="#a8a8a8" stroke-width="1.00"/>
<line x1="178.50" y1="627.20" x2="178.50" y2="631.5" stroke="#bbb" stroke-width="1.00"/>
<line x1="182.40" y1="608.50" x2="182.40" y2="631.5" stroke="#a4a4a4" stroke-width="1.00"/>
<line x1="185.50" y1="628.00" x2="185.50" y2="631.5" stroke="#bbb" stroke-width="1.00"/>
<line x1="187.80" y1="628.90" x2="187.80" y2="631.5" stroke="#bbb" stroke-width="1.00"/>
<line x1="194.60" y1="625.40" x2="194.60" y2="631.5" stroke="#b0b0b0" stroke-width="1.00"/>
<line x1="203.00" y1="628.90" x2="203.00" y2="631.5" stroke="#bbb" stroke-width="1.00"/>
<line x1="231.30" y1="598.50" x2="231.30" y2="631.5" stroke="#a4a4a4" stroke-width="1.00"/>
<line x1="234.40" y1="626.80" x2="234.40" y2="631.5" stroke="#c0c0c0" stroke-width="1.00"/>
<line x1="237.40" y1="627.00" x2="237.40" y2="631.5" stroke="#c0c0c0" stroke-width="1.00"/>
<line x1="244.20" y1="628.40" x2="244.20" y2="631.5" stroke="#bbb" stroke-width="1.00"/>
<line x1="246.90" y1="628.20" x2="246.90" y2="631.5" stroke="#bbb" stroke-width="1.00"/>
<line x1="251.90" y1="628.40" x2="251.90" y2="631.5" stroke="#bbb" stroke-width="1.00"/>
<line x1="253.50" y1="628.60" x2="253.50" y2="631.5" stroke="#c4c4c4" stroke-width="1.00"/>
<line x1="281.70" y1="628.40" x2="281.70" y2="631.5" stroke="#bbb" stroke-width="1.00"/>
<line x1="319.60" y1="625.40" x2="319.60" y2="631.5" stroke="#b4b4b4" stroke-width="1.00"/>
<line x1="322.30" y1="415.10" x2="322.30" y2="631.5" stroke="#b0b0b0" stroke-width="1.10"/>
<line x1="325.00" y1="605.00" x2="325.00" y2="631.5" stroke="#c0c0c0" stroke-width="1.40"/>
<line x1="329.00" y1="624.90" x2="329.00" y2="631.5" stroke="#c4c4c4" stroke-width="1.20"/>
<line x1="346.80" y1="611.60" x2="346.80" y2="631.5" stroke="#cfcfcf" stroke-width="1.80"/>
<line x1="354.50" y1="626.00" x2="354.50" y2="631.5" stroke="#c0c0c0" stroke-width="1.00"/>
<line x1="378.40" y1="613.20" x2="378.40" y2="631.5" stroke="#d0d0d0" stroke-width="1.80"/>
<line x1="423.50" y1="628.60" x2="423.50" y2="631.5" stroke="#c0c0c0" stroke-width="1.00"/>
<line x1="451.00" y1="607.40" x2="451.00" y2="631.5" stroke="#b4b4b4" stroke-width="1.20"/>
<line x1="455.00" y1="626.50" x2="455.00" y2="631.5" stroke="#c8c8c8" stroke-width="1.00"/>
<line x1="489.70" y1="628.30" x2="489.70" y2="631.5" stroke="#c0c0c0" stroke-width="1.00"/>
<line x1="520.20" y1="626.50" x2="520.20" y2="631.5" stroke="#b8b8b8" stroke-width="1.00"/>
<line x1="551.70" y1="629.00" x2="551.70" y2="631.5" stroke="#c4c4c4" stroke-width="1.00"/>
<line x1="589.50" y1="621.80" x2="589.50" y2="631.5" stroke="#b0b0b0" stroke-width="1.00"/>
<line x1="592.50" y1="627.50" x2="592.50" y2="631.5" stroke="#c4c4c4" stroke-width="1.00"/>
<line x1="596.00" y1="628.60" x2="596.00" y2="631.5" stroke="#c8c8c8" stroke-width="1.00"/>
<line x1="639.70" y1="628.60" x2="639.70" y2="631.5" stroke="#c0c0c0" stroke-width="1.00"/>
<line x1="667.70" y1="627.50" x2="667.70" y2="631.5" stroke="#c0c0c0" stroke-width="1.00"/>
<line x1="59.44" y1="630.60" x2="59.44" y2="631.5" stroke="#c8c8c8" stroke-width="0.8"/><line x1="61.64" y1="630.30" x2="61.64" y2="631.5" stroke="#c8c8c8" stroke-width="0.8"/><line x1="63.84" y1="630.90" x2="63.84" y2="631.5" stroke="#c8c8c8" stroke-width="0.8"/><line x1="66.04" y1="631.00" x2="66.04" y2="631.5" stroke="#c8c8c8" stroke-width="0.8"/><line x1="68.24" y1="629.90" x2="68.24" y2="631.5" stroke="#c8c8c8" stroke-width="0.8"/><line x1="70.44" y1="629.90" x2="70.44" y2="631.5" stroke="#c8c8c8" stroke-width="0.8"/><line x1="72.64" y1="630.60" x2="72.64" y2="631.5" stroke="#c8c8c8" stroke-width="0.8"/><line x1="74.84" y1="630.90" x2="74.84" y2="631.5" stroke="#c8c8c8" stroke-width="0.8"/><line x1="77.04" y1="630.90" x2="77.04" y2="631.5" stroke="#c8c8c8" stroke-width="0.8"/><line x1="79.24" y1="630.90" x2="79.24" y2="631.5" stroke="#c8c8c8" stroke-width="0.8"/><line x1="81.44" y1="629.90" x2="81.44" y2="631.5" stroke="#c8c8c8" stroke-width="0.8"/><line x1="83.64" y1="629.50" x2="83.64" y2="631.5" stroke="#c8c8c8" stroke-width="0.8"/><line x1="85.84" y1="630.30" x2="85.84" y2="631.5" stroke="#c8c8c8" stroke-width="0.8"/><line x1="88.04" y1="630.70" x2="88.04" y2="631.5" stroke="#c8c8c8" stroke-width="0.8"/><line x1="90.24" y1="630.70" x2="90.24" y2="631.5" stroke="#c8c8c8" stroke-width="0.8"/><line x1="92.44" y1="630.90" x2="92.44" y2="631.5" stroke="#c8c8c8" stroke-width="0.8"/><line x1="94.64" y1="630.60" x2="94.64" y2="631.5" stroke="#c8c8c8" stroke-width="0.8"/><line x1="96.84" y1="629.50" x2="96.84" y2="631.5" stroke="#c8c8c8" stroke-width="0.8"/><line x1="99.04" y1="629.50" x2="99.04" y2="631.5" stroke="#c8c8c8" stroke-width="0.8"/><line x1="101.24" y1="630.30" x2="101.24" y2="631.5" stroke="#c8c8c8" stroke-width="0.8"/><line x1="103.44" y1="630.30" x2="103.44" y2="631.5" stroke="#c8c8c8" stroke-width="0.8"/><line x1="105.64" y1="630.70" x2="105.64" y2="631.5" stroke="#c8c8c8" stroke-width="0.8"/><line x1="107.83" y1="630.60" x2="107.83" y2="631.5" stroke="#c8c8c8" stroke-width="0.8"/><line x1="110.03" y1="630.70" x2="110.03" y2="631.5" stroke="#c8c8c8" stroke-width="0.8"/><line x1="112.23" y1="630.90" x2="112.23" y2="631.5" stroke="#c8c8c8" stroke-width="0.8"/><line x1="114.43" y1="630.30" x2="114.43" y2="631.5" stroke="#c8c8c8" stroke-width="0.8"/><line x1="116.63" y1="630.60" x2="116.63" y2="631.5" stroke="#c8c8c8" stroke-width="0.8"/><line x1="118.83" y1="630.90" x2="118.83" y2="631.5" stroke="#c8c8c8" stroke-width="0.8"/><line x1="121.03" y1="630.70" x2="121.03" y2="631.5" stroke="#c8c8c8" stroke-width="0.8"/><line x1="123.23" y1="631.00" x2="123.23" y2="631.5" stroke="#c8c8c8" stroke-width="0.8"/><line x1="125.43" y1="630.70" x2="125.43" y2="631.5" stroke="#c8c8c8" stroke-width="0.8"/><line x1="127.63" y1="630.30" x2="127.63" y2="631.5" stroke="#c8c8c8" stroke-width="0.8"/><line x1="129.83" y1="630.70" x2="129.83" y2="631.5" stroke="#c8c8c8" stroke-width="0.8"/><line x1="132.03" y1="630.30" x2="132.03" y2="631.5" stroke="#c8c8c8" stroke-width="0.8"/><line x1="134.23" y1="630.60" x2="134.23" y2="631.5" stroke="#c8c8c8" stroke-width="0.8"/><line x1="136.43" y1="630.60" x2="136.43" y2="631.5" stroke="#c8c8c8" stroke-width="0.8"/><line x1="138.63" y1="630.30" x2="138.63" y2="631.5" stroke="#c8c8c8" stroke-width="0.8"/><line x1="140.83" y1="630.30" x2="140.83" y2="631.5" stroke="#c8c8c8" stroke-width="0.8"/><line x1="143.03" y1="631.00" x2="143.03" y2="631.5" stroke="#c8c8c8" stroke-width="0.8"/><line x1="145.23" y1="630.70" x2="145.23" y2="631.5" stroke="#c8c8c8" stroke-width="0.8"/><line x1="147.43" y1="631.00" x2="147.43" y2="631.5" stroke="#c8c8c8" stroke-width="0.8"/><line x1="149.63" y1="630.70" x2="149.63" y2="631.5" stroke="#c8c8c8" stroke-width="0.8"/><line x1="151.83" y1="630.70" x2="151.83" y2="631.5" stroke="#c8c8c8" stroke-width="0.8"/><line x1="154.03" y1="630.30" x2="154.03" y2="631.5" stroke="#c8c8c8" stroke-width="0.8"/><line x1="156.23" y1="630.90" x2="156.23" y2="631.5" stroke="#c8c8c8" stroke-width="0.8"/><line x1="158.43" y1="630.70" x2="158.43" y2="631.5" stroke="#c8c8c8" stroke-width="0.8"/><line x1="160.63" y1="629.50" x2="160.63" y2="631.5" stroke="#c8c8c8" stroke-width="0.8"/><line x1="162.82" y1="630.30" x2="162.82" y2="631.5" stroke="#c8c8c8" stroke-width="0.8"/><line x1="165.02" y1="631.00" x2="165.02" y2="631.5" stroke="#c8c8c8" stroke-width="0.8"/><line x1="167.22" y1="629.90" x2="167.22" y2="631.5" stroke="#c8c8c8" stroke-width="0.8"/><line x1="169.42" y1="629.50" x2="169.42" y2="631.5" stroke="#c8c8c8" stroke-width="0.8"/><line x1="171.62" y1="630.60" x2="171.62" y2="631.5" stroke="#c8c8c8" stroke-width="0.8"/><line x1="173.82" y1="630.60" x2="173.82" y2="631.5" stroke="#c8c8c8" stroke-width="0.8"/><line x1="176.02" y1="630.60" x2="176.02" y2="631.5" stroke="#c8c8c8" stroke-width="0.8"/><line x1="178.22" y1="629.90" x2="178.22" y2="631.5" stroke="#c8c8c8" stroke-width="0.8"/><line x1="180.42" y1="630.30" x2="180.42" y2="631.5" stroke="#c8c8c8" stroke-width="0.8"/><line x1="182.62" y1="630.90" x2="182.62" y2="631.5" stroke="#c8c8c8" stroke-width="0.8"/><line x1="184.82" y1="630.70" x2="184.82" y2="631.5" stroke="#c8c8c8" stroke-width="0.8"/><line x1="187.02" y1="630.70" x2="187.02" y2="631.5" stroke="#c8c8c8" stroke-width="0.8"/><line x1="189.22" y1="629.50" x2="189.22" y2="631.5" stroke="#c8c8c8" stroke-width="0.8"/><line x1="191.42" y1="630.70" x2="191.42" y2="631.5" stroke="#c8c8c8" stroke-width="0.8"/><line x1="193.62" y1="630.30" x2="193.62" y2="631.5" stroke="#c8c8c8" stroke-width="0.8"/><line x1="195.82" y1="630.90" x2="195.82" y2="631.5" stroke="#c8c8c8" stroke-width="0.8"/><line x1="198.02" y1="630.30" x2="198.02" y2="631.5" stroke="#c8c8c8" stroke-width="0.8"/><line x1="200.22" y1="629.50" x2="200.22" y2="631.5" stroke="#c8c8c8" stroke-width="0.8"/><line x1="202.42" y1="631.00" x2="202.42" y2="631.5" stroke="#c8c8c8" stroke-width="0.8"/><line x1="204.62" y1="630.30" x2="204.62" y2="631.5" stroke="#c8c8c8" stroke-width="0.8"/><line x1="206.82" y1="630.70" x2="206.82" y2="631.5" stroke="#c8c8c8" stroke-width="0.8"/><line x1="209.02" y1="630.70" x2="209.02" y2="631.5" stroke="#c8c8c8" stroke-width="0.8"/><line x1="211.22" y1="629.50" x2="211.22" y2="631.5" stroke="#c8c8c8" stroke-width="0.8"/><line x1="213.42" y1="630.60" x2="213.42" y2="631.5" stroke="#c8c8c8" stroke-width="0.8"/><line x1="215.62" y1="629.90" x2="215.62" y2="631.5" stroke="#c8c8c8" stroke-width="0.8"/><line x1="217.82" y1="629.90" x2="217.82" y2="631.5" stroke="#c8c8c8" stroke-width="0.8"/><line x1="220.01" y1="629.50" x2="220.01" y2="631.5" stroke="#c8c8c8" stroke-width="0.8"/><line x1="222.21" y1="630.30" x2="222.21" y2="631.5" stroke="#c8c8c8" stroke-width="0.8"/><line x1="224.41" y1="629.90" x2="224.41" y2="631.5" stroke="#c8c8c8" stroke-width="0.8"/><line x1="226.61" y1="629.90" x2="226.61" y2="631.5" stroke="#c8c8c8" stroke-width="0.8"/><line x1="228.81" y1="630.60" x2="228.81" y2="631.5" stroke="#c8c8c8" stroke-width="0.8"/><line x1="231.01" y1="630.60" x2="231.01" y2="631.5" stroke="#c8c8c8" stroke-width="0.8"/><line x1="233.21" y1="630.30" x2="233.21" y2="631.5" stroke="#c8c8c8" stroke-width="0.8"/><line x1="235.41" y1="630.30" x2="235.41" y2="631.5" stroke="#c8c8c8" stroke-width="0.8"/><line x1="237.61" y1="630.70" x2="237.61" y2="631.5" stroke="#c8c8c8" stroke-width="0.8"/><line x1="239.81" y1="630.70" x2="239.81" y2="631.5" stroke="#c8c8c8" stroke-width="0.8"/><line x1="242.01" y1="630.90" x2="242.01" y2="631.5" stroke="#c8c8c8" stroke-width="0.8"/><line x1="244.21" y1="630.90" x2="244.21" y2="631.5" stroke="#c8c8c8" stroke-width="0.8"/><line x1="246.41" y1="630.90" x2="246.41" y2="631.5" stroke="#c8c8c8" stroke-width="0.8"/><line x1="248.61" y1="629.90" x2="248.61" y2="631.5" stroke="#c8c8c8" stroke-width="0.8"/><line x1="250.81" y1="631.00" x2="250.81" y2="631.5" stroke="#c8c8c8" stroke-width="0.8"/><line x1="253.01" y1="630.30" x2="253.01" y2="631.5" stroke="#c8c8c8" stroke-width="0.8"/><line x1="255.21" y1="629.50" x2="255.21" y2="631.5" stroke="#c8c8c8" stroke-width="0.8"/><line x1="257.41" y1="629.50" x2="257.41" y2="631.5" stroke="#c8c8c8" stroke-width="0.8"/><line x1="259.61" y1="631.00" x2="259.61" y2="631.5" stroke="#c8c8c8" stroke-width="0.8"/><line x1="261.81" y1="629.90" x2="261.81" y2="631.5" stroke="#c8c8c8" stroke-width="0.8"/><line x1="264.01" y1="631.00" x2="264.01" y2="631.5" stroke="#c8c8c8" stroke-width="0.8"/><line x1="266.21" y1="630.30" x2="266.21" y2="631.5" stroke="#c8c8c8" stroke-width="0.8"/><line x1="268.41" y1="630.60" x2="268.41" y2="631.5" stroke="#c8c8c8" stroke-width="0.8"/><line x1="270.61" y1="631.00" x2="270.61" y2="631.5" stroke="#c8c8c8" stroke-width="0.8"/><line x1="272.81" y1="630.60" x2="272.81" y2="631.5" stroke="#c8c8c8" stroke-width="0.8"/><line x1="275.01" y1="630.90" x2="275.01" y2="631.5" stroke="#c8c8c8" stroke-width="0.8"/><line x1="277.20" y1="629.90" x2="277.20" y2="631.5" stroke="#c8c8c8" stroke-width="0.8"/><line x1="279.40" y1="630.60" x2="279.40" y2="631.5" stroke="#c8c8c8" stroke-width="0.8"/><line x1="281.60" y1="631.00" x2="281.60" y2="631.5" stroke="#c8c8c8" stroke-width="0.8"/><line x1="283.80" y1="631.00" x2="283.80" y2="631.5" stroke="#c8c8c8" stroke-width="0.8"/><line x1="286.00" y1="629.90" x2="286.00" y2="631.5" stroke="#c8c8c8" stroke-width="0.8"/><line x1="288.20" y1="630.30" x2="288.20" y2="631.5" stroke="#c8c8c8" stroke-width="0.8"/><line x1="290.40" y1="630.60" x2="290.40" y2="631.5" stroke="#c8c8c8" stroke-width="0.8"/><line x1="292.60" y1="630.30" x2="292.60" y2="631.5" stroke="#c8c8c8" stroke-width="0.8"/><line x1="294.80" y1="629.90" x2="294.80" y2="631.5" stroke="#c8c8c8" stroke-width="0.8"/><line x1="297.00" y1="631.00" x2="297.00" y2="631.5" stroke="#c8c8c8" stroke-width="0.8"/><line x1="299.20" y1="629.50" x2="299.20" y2="631.5" stroke="#c8c8c8" stroke-width="0.8"/><line x1="301.40" y1="630.30" x2="301.40" y2="631.5" stroke="#c8c8c8" stroke-width="0.8"/><line x1="303.60" y1="631.00" x2="303.60" y2="631.5" stroke="#c8c8c8" stroke-width="0.8"/><line x1="305.80" y1="629.50" x2="305.80" y2="631.5" stroke="#c8c8c8" stroke-width="0.8"/><line x1="308.00" y1="630.60" x2="308.00" y2="631.5" stroke="#c8c8c8" stroke-width="0.8"/><line x1="310.20" y1="630.30" x2="310.20" y2="631.5" stroke="#c8c8c8" stroke-width="0.8"/><line x1="312.40" y1="630.90" x2="312.40" y2="631.5" stroke="#c8c8c8" stroke-width="0.8"/><line x1="314.60" y1="630.70" x2="314.60" y2="631.5" stroke="#c8c8c8" stroke-width="0.8"/><line x1="316.80" y1="630.90" x2="316.80" y2="631.5" stroke="#c8c8c8" stroke-width="0.8"/><line x1="319.00" y1="631.00" x2="319.00" y2="631.5" stroke="#c8c8c8" stroke-width="0.8"/><line x1="321.20" y1="630.60" x2="321.20" y2="631.5" stroke="#c8c8c8" stroke-width="0.8"/><line x1="323.40" y1="630.30" x2="323.40" y2="631.5" stroke="#c8c8c8" stroke-width="0.8"/><line x1="325.60" y1="630.70" x2="325.60" y2="631.5" stroke="#c8c8c8" stroke-width="0.8"/><line x1="327.80" y1="629.50" x2="327.80" y2="631.5" stroke="#c8c8c8" stroke-width="0.8"/><line x1="330.00" y1="629.50" x2="330.00" y2="631.5" stroke="#c8c8c8" stroke-width="0.8"/><line x1="332.19" y1="630.70" x2="332.19" y2="631.5" stroke="#c8c8c8" stroke-width="0.8"/><line x1="334.39" y1="630.60" x2="334.39" y2="631.5" stroke="#c8c8c8" stroke-width="0.8"/><line x1="336.59" y1="630.90" x2="336.59" y2="631.5" stroke="#c8c8c8" stroke-width="0.8"/><line x1="338.79" y1="630.30" x2="338.79" y2="631.5" stroke="#c8c8c8" stroke-width="0.8"/><line x1="340.99" y1="630.60" x2="340.99" y2="631.5" stroke="#c8c8c8" stroke-width="0.8"/><line x1="343.19" y1="630.30" x2="343.19" y2="631.5" stroke="#c8c8c8" stroke-width="0.8"/><line x1="345.39" y1="629.90" x2="345.39" y2="631.5" stroke="#c8c8c8" stroke-width="0.8"/><line x1="347.59" y1="630.90" x2="347.59" y2="631.5" stroke="#c8c8c8" stroke-width="0.8"/><line x1="349.79" y1="630.90" x2="349.79" y2="631.5" stroke="#c8c8c8" stroke-width="0.8"/><line x1="351.99" y1="630.30" x2="351.99" y2="631.5" stroke="#c8c8c8" stroke-width="0.8"/><line x1="354.19" y1="631.00" x2="354.19" y2="631.5" stroke="#c8c8c8" stroke-width="0.8"/><line x1="356.39" y1="630.90" x2="356.39" y2="631.5" stroke="#c8c8c8" stroke-width="0.8"/><line x1="358.59" y1="630.30" x2="358.59" y2="631.5" stroke="#c8c8c8" stroke-width="0.8"/><line x1="360.79" y1="631.00" x2="360.79" y2="631.5" stroke="#c8c8c8" stroke-width="0.8"/><line x1="362.99" y1="631.00" x2="362.99" y2="631.5" stroke="#c8c8c8" stroke-width="0.8"/><line x1="365.19" y1="630.30" x2="365.19" y2="631.5" stroke="#c8c8c8" stroke-width="0.8"/><line x1="367.39" y1="630.90" x2="367.39" y2="631.5" stroke="#c8c8c8" stroke-width="0.8"/><line x1="369.59" y1="630.30" x2="369.59" y2="631.5" stroke="#c8c8c8" stroke-width="0.8"/><line x1="371.79" y1="630.30" x2="371.79" y2="631.5" stroke="#c8c8c8" stroke-width="0.8"/><line x1="373.99" y1="630.30" x2="373.99" y2="631.5" stroke="#c8c8c8" stroke-width="0.8"/><line x1="376.19" y1="630.60" x2="376.19" y2="631.5" stroke="#c8c8c8" stroke-width="0.8"/><line x1="378.39" y1="630.70" x2="378.39" y2="631.5" stroke="#c8c8c8" stroke-width="0.8"/><line x1="380.59" y1="631.00" x2="380.59" y2="631.5" stroke="#c8c8c8" stroke-width="0.8"/><line x1="382.79" y1="629.90" x2="382.79" y2="631.5" stroke="#c8c8c8" stroke-width="0.8"/><line x1="384.99" y1="630.70" x2="384.99" y2="631.5" stroke="#c8c8c8" stroke-width="0.8"/><line x1="387.19" y1="630.70" x2="387.19" y2="631.5" stroke="#c8c8c8" stroke-width="0.8"/><line x1="389.38" y1="629.50" x2="389.38" y2="631.5" stroke="#c8c8c8" stroke-width="0.8"/><line x1="391.58" y1="631.00" x2="391.58" y2="631.5" stroke="#c8c8c8" stroke-width="0.8"/><line x1="393.78" y1="630.70" x2="393.78" y2="631.5" stroke="#c8c8c8" stroke-width="0.8"/><line x1="395.98" y1="630.90" x2="395.98" y2="631.5" stroke="#c8c8c8" stroke-width="0.8"/><line x1="398.18" y1="630.30" x2="398.18" y2="631.5" stroke="#c8c8c8" stroke-width="0.8"/><line x1="400.38" y1="629.50" x2="400.38" y2="631.5" stroke="#c8c8c8" stroke-width="0.8"/><line x1="402.58" y1="630.60" x2="402.58" y2="631.5" stroke="#c8c8c8" stroke-width="0.8"/><line x1="404.78" y1="629.90" x2="404.78" y2="631.5" stroke="#c8c8c8" stroke-width="0.8"/><line x1="406.98" y1="630.30" x2="406.98" y2="631.5" stroke="#c8c8c8" stroke-width="0.8"/><line x1="409.18" y1="630.60" x2="409.18" y2="631.5" stroke="#c8c8c8" stroke-width="0.8"/><line x1="411.38" y1="630.30" x2="411.38" y2="631.5" stroke="#c8c8c8" stroke-width="0.8"/><line x1="413.58" y1="629.90" x2="413.58" y2="631.5" stroke="#c8c8c8" stroke-width="0.8"/><line x1="415.78" y1="629.50" x2="415.78" y2="631.5" stroke="#c8c8c8" stroke-width="0.8"/><line x1="417.98" y1="630.60" x2="417.98" y2="631.5" stroke="#c8c8c8" stroke-width="0.8"/><line x1="420.18" y1="630.30" x2="420.18" y2="631.5" stroke="#c8c8c8" stroke-width="0.8"/><line x1="422.38" y1="629.50" x2="422.38" y2="631.5" stroke="#c8c8c8" stroke-width="0.8"/><line x1="424.58" y1="630.90" x2="424.58" y2="631.5" stroke="#c8c8c8" stroke-width="0.8"/><line x1="426.78" y1="630.30" x2="426.78" y2="631.5" stroke="#c8c8c8" stroke-width="0.8"/><line x1="428.98" y1="630.90" x2="428.98" y2="631.5" stroke="#c8c8c8" stroke-width="0.8"/><line x1="431.18" y1="629.90" x2="431.18" y2="631.5" stroke="#c8c8c8" stroke-width="0.8"/><line x1="433.38" y1="630.60" x2="433.38" y2="631.5" stroke="#c8c8c8" stroke-width="0.8"/><line x1="435.58" y1="630.30" x2="435.58" y2="631.5" stroke="#c8c8c8" stroke-width="0.8"/><line x1="437.78" y1="630.70" x2="437.78" y2="631.5" stroke="#c8c8c8" stroke-width="0.8"/><line x1="439.98" y1="630.70" x2="439.98" y2="631.5" stroke="#c8c8c8" stroke-width="0.8"/><line x1="442.18" y1="630.30" x2="442.18" y2="631.5" stroke="#c8c8c8" stroke-width="0.8"/><line x1="444.38" y1="630.30" x2="444.38" y2="631.5" stroke="#c8c8c8" stroke-width="0.8"/><line x1="446.57" y1="629.50" x2="446.57" y2="631.5" stroke="#c8c8c8" stroke-width="0.8"/><line x1="448.77" y1="630.90" x2="448.77" y2="631.5" stroke="#c8c8c8" stroke-width="0.8"/><line x1="450.97" y1="629.90" x2="450.97" y2="631.5" stroke="#c8c8c8" stroke-width="0.8"/><line x1="453.17" y1="630.60" x2="453.17" y2="631.5" stroke="#c8c8c8" stroke-width="0.8"/><line x1="455.37" y1="629.90" x2="455.37" y2="631.5" stroke="#c8c8c8" stroke-width="0.8"/><line x1="457.57" y1="630.60" x2="457.57" y2="631.5" stroke="#c8c8c8" stroke-width="0.8"/><line x1="459.77" y1="630.90" x2="459.77" y2="631.5" stroke="#c8c8c8" stroke-width="0.8"/><line x1="461.97" y1="630.90" x2="461.97" y2="631.5" stroke="#c8c8c8" stroke-width="0.8"/><line x1="464.17" y1="630.90" x2="464.17" y2="631.5" stroke="#c8c8c8" stroke-width="0.8"/><line x1="466.37" y1="630.90" x2="466.37" y2="631.5" stroke="#c8c8c8" stroke-width="0.8"/><line x1="468.57" y1="631.00" x2="468.57" y2="631.5" stroke="#c8c8c8" stroke-width="0.8"/><line x1="470.77" y1="630.60" x2="470.77" y2="631.5" stroke="#c8c8c8" stroke-width="0.8"/><line x1="472.97" y1="629.50" x2="472.97" y2="631.5" stroke="#c8c8c8" stroke-width="0.8"/><line x1="475.17" y1="631.00" x2="475.17" y2="631.5" stroke="#c8c8c8" stroke-width="0.8"/><line x1="477.37" y1="630.60" x2="477.37" y2="631.5" stroke="#c8c8c8" stroke-width="0.8"/><line x1="479.57" y1="629.50" x2="479.57" y2="631.5" stroke="#c8c8c8" stroke-width="0.8"/><line x1="481.77" y1="630.90" x2="481.77" y2="631.5" stroke="#c8c8c8" stroke-width="0.8"/><line x1="483.97" y1="629.50" x2="483.97" y2="631.5" stroke="#c8c8c8" stroke-width="0.8"/><line x1="486.17" y1="629.90" x2="486.17" y2="631.5" stroke="#c8c8c8" stroke-width="0.8"/><line x1="488.37" y1="629.50" x2="488.37" y2="631.5" stroke="#c8c8c8" stroke-width="0.8"/><line x1="490.57" y1="630.60" x2="490.57" y2="631.5" stroke="#c8c8c8" stroke-width="0.8"/><line x1="492.77" y1="630.30" x2="492.77" y2="631.5" stroke="#c8c8c8" stroke-width="0.8"/><line x1="494.97" y1="630.90" x2="494.97" y2="631.5" stroke="#c8c8c8" stroke-width="0.8"/><line x1="497.17" y1="630.90" x2="497.17" y2="631.5" stroke="#c8c8c8" stroke-width="0.8"/><line x1="499.37" y1="630.70" x2="499.37" y2="631.5" stroke="#c8c8c8" stroke-width="0.8"/><line x1="501.56" y1="629.50" x2="501.56" y2="631.5" stroke="#c8c8c8" stroke-width="0.8"/><line x1="503.76" y1="630.30" x2="503.76" y2="631.5" stroke="#c8c8c8" stroke-width="0.8"/><line x1="505.96" y1="630.70" x2="505.96" y2="631.5" stroke="#c8c8c8" stroke-width="0.8"/><line x1="508.16" y1="629.90" x2="508.16" y2="631.5" stroke="#c8c8c8" stroke-width="0.8"/><line x1="510.36" y1="631.00" x2="510.36" y2="631.5" stroke="#c8c8c8" stroke-width="0.8"/><line x1="512.56" y1="630.60" x2="512.56" y2="631.5" stroke="#c8c8c8" stroke-width="0.8"/><line x1="514.76" y1="629.90" x2="514.76" y2="631.5" stroke="#c8c8c8" stroke-width="0.8"/><line x1="516.96" y1="630.60" x2="516.96" y2="631.5" stroke="#c8c8c8" stroke-width="0.8"/><line x1="519.16" y1="630.60" x2="519.16" y2="631.5" stroke="#c8c8c8" stroke-width="0.8"/><line x1="521.36" y1="629.90" x2="521.36" y2="631.5" stroke="#c8c8c8" stroke-width="0.8"/><line x1="523.56" y1="629.90" x2="523.56" y2="631.5" stroke="#c8c8c8" stroke-width="0.8"/><line x1="525.76" y1="629.90" x2="525.76" y2="631.5" stroke="#c8c8c8" stroke-width="0.8"/><line x1="527.96" y1="630.90" x2="527.96" y2="631.5" stroke="#c8c8c8" stroke-width="0.8"/><line x1="530.16" y1="630.60" x2="530.16" y2="631.5" stroke="#c8c8c8" stroke-width="0.8"/><line x1="532.36" y1="629.90" x2="532.36" y2="631.5" stroke="#c8c8c8" stroke-width="0.8"/><line x1="534.56" y1="629.90" x2="534.56" y2="631.5" stroke="#c8c8c8" stroke-width="0.8"/><line x1="536.76" y1="630.60" x2="536.76" y2="631.5" stroke="#c8c8c8" stroke-width="0.8"/><line x1="538.96" y1="631.00" x2="538.96" y2="631.5" stroke="#c8c8c8" stroke-width="0.8"/><line x1="541.16" y1="629.90" x2="541.16" y2="631.5" stroke="#c8c8c8" stroke-width="0.8"/><line x1="543.36" y1="630.70" x2="543.36" y2="631.5" stroke="#c8c8c8" stroke-width="0.8"/><line x1="545.56" y1="630.60" x2="545.56" y2="631.5" stroke="#c8c8c8" stroke-width="0.8"/><line x1="547.76" y1="629.90" x2="547.76" y2="631.5" stroke="#c8c8c8" stroke-width="0.8"/><line x1="549.96" y1="630.60" x2="549.96" y2="631.5" stroke="#c8c8c8" stroke-width="0.8"/><line x1="552.16" y1="630.90" x2="552.16" y2="631.5" stroke="#c8c8c8" stroke-width="0.8"/><line x1="554.36" y1="630.90" x2="554.36" y2="631.5" stroke="#c8c8c8" stroke-width="0.8"/><line x1="556.56" y1="630.30" x2="556.56" y2="631.5" stroke="#c8c8c8" stroke-width="0.8"/><line x1="558.75" y1="630.30" x2="558.75" y2="631.5" stroke="#c8c8c8" stroke-width="0.8"/><line x1="560.95" y1="630.60" x2="560.95" y2="631.5" stroke="#c8c8c8" stroke-width="0.8"/><line x1="563.15" y1="629.50" x2="563.15" y2="631.5" stroke="#c8c8c8" stroke-width="0.8"/><line x1="565.35" y1="630.60" x2="565.35" y2="631.5" stroke="#c8c8c8" stroke-width="0.8"/><line x1="567.55" y1="630.70" x2="567.55" y2="631.5" stroke="#c8c8c8" stroke-width="0.8"/><line x1="569.75" y1="630.60" x2="569.75" y2="631.5" stroke="#c8c8c8" stroke-width="0.8"/><line x1="571.95" y1="629.90" x2="571.95" y2="631.5" stroke="#c8c8c8" stroke-width="0.8"/><line x1="574.15" y1="630.70" x2="574.15" y2="631.5" stroke="#c8c8c8" stroke-width="0.8"/><line x1="576.35" y1="630.30" x2="576.35" y2="631.5" stroke="#c8c8c8" stroke-width="0.8"/><line x1="578.55" y1="630.60" x2="578.55" y2="631.5" stroke="#c8c8c8" stroke-width="0.8"/><line x1="580.75" y1="630.30" x2="580.75" y2="631.5" stroke="#c8c8c8" stroke-width="0.8"/><line x1="582.95" y1="630.90" x2="582.95" y2="631.5" stroke="#c8c8c8" stroke-width="0.8"/><line x1="585.15" y1="630.30" x2="585.15" y2="631.5" stroke="#c8c8c8" stroke-width="0.8"/><line x1="587.35" y1="629.50" x2="587.35" y2="631.5" stroke="#c8c8c8" stroke-width="0.8"/><line x1="589.55" y1="630.90" x2="589.55" y2="631.5" stroke="#c8c8c8" stroke-width="0.8"/><line x1="591.75" y1="629.50" x2="591.75" y2="631.5" stroke="#c8c8c8" stroke-width="0.8"/><line x1="593.95" y1="629.90" x2="593.95" y2="631.5" stroke="#c8c8c8" stroke-width="0.8"/><line x1="596.15" y1="631.00" x2="596.15" y2="631.5" stroke="#c8c8c8" stroke-width="0.8"/><line x1="598.35" y1="631.00" x2="598.35" y2="631.5" stroke="#c8c8c8" stroke-width="0.8"/><line x1="600.55" y1="630.70" x2="600.55" y2="631.5" stroke="#c8c8c8" stroke-width="0.8"/><line x1="602.75" y1="630.70" x2="602.75" y2="631.5" stroke="#c8c8c8" stroke-width="0.8"/><line x1="604.95" y1="631.00" x2="604.95" y2="631.5" stroke="#c8c8c8" stroke-width="0.8"/><line x1="607.15" y1="631.00" x2="607.15" y2="631.5" stroke="#c8c8c8" stroke-width="0.8"/><line x1="609.35" y1="630.90" x2="609.35" y2="631.5" stroke="#c8c8c8" stroke-width="0.8"/><line x1="611.55" y1="629.90" x2="611.55" y2="631.5" stroke="#c8c8c8" stroke-width="0.8"/><line x1="613.74" y1="629.90" x2="613.74" y2="631.5" stroke="#c8c8c8" stroke-width="0.8"/><line x1="615.94" y1="630.90" x2="615.94" y2="631.5" stroke="#c8c8c8" stroke-width="0.8"/><line x1="618.14" y1="629.90" x2="618.14" y2="631.5" stroke="#c8c8c8" stroke-width="0.8"/><line x1="620.34" y1="630.60" x2="620.34" y2="631.5" stroke="#c8c8c8" stroke-width="0.8"/><line x1="622.54" y1="630.70" x2="622.54" y2="631.5" stroke="#c8c8c8" stroke-width="0.8"/><line x1="624.74" y1="629.50" x2="624.74" y2="631.5" stroke="#c8c8c8" stroke-width="0.8"/><line x1="626.94" y1="630.60" x2="626.94" y2="631.5" stroke="#c8c8c8" stroke-width="0.8"/><line x1="629.14" y1="630.30" x2="629.14" y2="631.5" stroke="#c8c8c8" stroke-width="0.8"/><line x1="631.34" y1="630.30" x2="631.34" y2="631.5" stroke="#c8c8c8" stroke-width="0.8"/><line x1="633.54" y1="631.00" x2="633.54" y2="631.5" stroke="#c8c8c8" stroke-width="0.8"/><line x1="635.74" y1="629.90" x2="635.74" y2="631.5" stroke="#c8c8c8" stroke-width="0.8"/><line x1="637.94" y1="630.70" x2="637.94" y2="631.5" stroke="#c8c8c8" stroke-width="0.8"/><line x1="640.14" y1="631.00" x2="640.14" y2="631.5" stroke="#c8c8c8" stroke-width="0.8"/><line x1="642.34" y1="630.30" x2="642.34" y2="631.5" stroke="#c8c8c8" stroke-width="0.8"/><line x1="644.54" y1="630.70" x2="644.54" y2="631.5" stroke="#c8c8c8" stroke-width="0.8"/><line x1="646.74" y1="629.90" x2="646.74" y2="631.5" stroke="#c8c8c8" stroke-width="0.8"/><line x1="648.94" y1="629.50" x2="648.94" y2="631.5" stroke="#c8c8c8" stroke-width="0.8"/><line x1="651.14" y1="630.60" x2="651.14" y2="631.5" stroke="#c8c8c8" stroke-width="0.8"/><line x1="653.34" y1="631.00" x2="653.34" y2="631.5" stroke="#c8c8c8" stroke-width="0.8"/><line x1="655.54" y1="630.70" x2="655.54" y2="631.5" stroke="#c8c8c8" stroke-width="0.8"/><line x1="657.74" y1="631.00" x2="657.74" y2="631.5" stroke="#c8c8c8" stroke-width="0.8"/><line x1="659.94" y1="630.70" x2="659.94" y2="631.5" stroke="#c8c8c8" stroke-width="0.8"/><line x1="662.14" y1="630.30" x2="662.14" y2="631.5" stroke="#c8c8c8" stroke-width="0.8"/><line x1="664.34" y1="630.30" x2="664.34" y2="631.5" stroke="#c8c8c8" stroke-width="0.8"/><line x1="666.54" y1="629.90" x2="666.54" y2="631.5" stroke="#c8c8c8" stroke-width="0.8"/><line x1="668.74" y1="629.90" x2="668.74" y2="631.5" stroke="#c8c8c8" stroke-width="0.8"/><line x1="670.93" y1="630.90" x2="670.93" y2="631.5" stroke="#c8c8c8" stroke-width="0.8"/>
<g font-family="Liberation Serif, serif" font-size="11.8" fill="#111" stroke="#111" stroke-width="0.22" text-anchor="middle">
<text x="102.60" y="568.50">214.90</text>
<text x="141.00" y="627.30">227.05</text>
<text x="175.40" y="609.20">238.05</text>
<text x="231.30" y="595.70">255.90</text>
<text x="247.20" y="624.90">260.90</text>
<text x="281.70" y="623.70">271.85</text>
<text x="321.80" y="412.60">284.75</text>
<text x="347.30" y="608.50">292.75</text>
<text x="424.00" y="626.80">317.35</text>
<text x="450.50" y="605.00">325.80</text>
<text x="489.60" y="625.90">338.10</text>
<text x="551.60" y="628.00">357.85</text>
<text x="589.60" y="618.70">369.85</text>
<text x="639.50" y="624.90">385.85</text>
</g>
<line x1="565.60" y1="363.00" x2="565.60" y2="375.90" stroke="#505050" stroke-width="1.00" stroke-linecap="round"/>
<line x1="569.50" y1="363.00" x2="569.50" y2="376.80" stroke="#505050" stroke-width="1.00" stroke-linecap="round"/>
<line x1="567.50" y1="376.30" x2="548.90" y2="384.50" stroke="#505050" stroke-width="1.00" stroke-linecap="round"/>
<line x1="548.90" y1="384.50" x2="548.90" y2="403.90" stroke="#505050" stroke-width="1.00" stroke-linecap="round"/>
<line x1="552.20" y1="386.60" x2="552.20" y2="402.30" stroke="#505050" stroke-width="1.00" stroke-linecap="round"/>
<line x1="548.90" y1="403.90" x2="559.90" y2="410.60" stroke="#505050" stroke-width="1.00" stroke-linecap="round"/>
<line x1="573.90" y1="410.30" x2="585.80" y2="404.60" stroke="#505050" stroke-width="1.00" stroke-linecap="round"/>
<line x1="573.50" y1="406.40" x2="581.80" y2="402.80" stroke="#505050" stroke-width="1.00" stroke-linecap="round"/>
<line x1="585.80" y1="404.60" x2="585.80" y2="392.90" stroke="#505050" stroke-width="1.00" stroke-linecap="round"/>
<line x1="578.30" y1="381.40" x2="567.50" y2="376.30" stroke="#505050" stroke-width="1.00" stroke-linecap="round"/>
<line x1="585.80" y1="404.60" x2="596.70" y2="410.70" stroke="#505050" stroke-width="1.00" stroke-linecap="round"/>
<line x1="548.90" y1="384.50" x2="537.10" y2="380.80" stroke="#505050" stroke-width="1.00" stroke-linecap="round"/>
<line x1="524.20" y1="384.70" x2="515.40" y2="394.60" stroke="#505050" stroke-width="1.00" stroke-linecap="round"/>
<line x1="526.80" y1="387.30" x2="520.30" y2="394.70" stroke="#505050" stroke-width="1.00" stroke-linecap="round"/>
<line x1="515.40" y1="394.60" x2="523.80" y2="405.10" stroke="#505050" stroke-width="1.00" stroke-linecap="round"/>
<line x1="534.70" y1="408.10" x2="548.90" y2="403.90" stroke="#505050" stroke-width="1.00" stroke-linecap="round"/>
<line x1="509.00" y1="433.20" x2="521.40" y2="429.50" stroke="#505050" stroke-width="1.00" stroke-linecap="round"/>
<line x1="521.40" y1="429.50" x2="533.60" y2="444.70" stroke="#505050" stroke-width="1.00" stroke-linecap="round"/>
<line x1="533.60" y1="444.70" x2="521.80" y2="459.80" stroke="#505050" stroke-width="1.00" stroke-linecap="round"/>
<line x1="521.80" y1="459.80" x2="501.40" y2="454.70" stroke="#505050" stroke-width="1.00" stroke-linecap="round"/>
<line x1="501.40" y1="454.70" x2="501.40" y2="442.20" stroke="#505050" stroke-width="1.00" stroke-linecap="round"/>
<line x1="533.60" y1="444.70" x2="548.20" y2="444.70" stroke="#505050" stroke-width="1.00" stroke-linecap="round"/>
<line x1="521.80" y1="459.80" x2="525.90" y2="471.70" stroke="#505050" stroke-width="1.00" stroke-linecap="round"/>
<line x1="484.60" y1="465.40" x2="472.10" y2="460.90" stroke="#505050" stroke-width="1.00" stroke-linecap="round"/>
<polygon points="521.40,429.60 523.70,418.20 527.90,419.20" fill="#1a1a1a"/>
<polygon points="501.50,454.50 483.40,463.60 486.00,466.90" fill="#1a1a1a"/>
<g font-family="Liberation Sans, sans-serif" font-size="13.2" fill="#2a2a2a" stroke="#2a2a2a" stroke-width="0.15">
<text transform="translate(567.10,360.50) scale(1.1,1)" text-anchor="middle">O</text>
<text transform="translate(580.40,389.80) scale(1.1,1)" text-anchor="start">NH</text>
<text transform="translate(566.90,418.70) scale(1.1,1)" text-anchor="middle">N</text>
<text transform="translate(528.40,383.90) scale(1.1,1)" text-anchor="middle">N</text>
<text transform="translate(528.50,414.30) scale(1.1,1)" text-anchor="middle">N</text>
<text transform="translate(598.70,418.60) scale(1.1,1)" text-anchor="start">NH<tspan font-size="9.3" dy="3.2">2</tspan></text>
<text transform="translate(501.30,440.20) scale(1.1,1)" text-anchor="middle">O</text>
<text transform="translate(447.70,462.80) scale(1.1,1)" text-anchor="start">HO</text>
<text transform="translate(549.50,449.60) scale(1.1,1)" text-anchor="start">OH</text>
<text transform="translate(522.50,483.50) scale(1.1,1)" text-anchor="start">OH</text>
</g>
</svg>
</body></html>
